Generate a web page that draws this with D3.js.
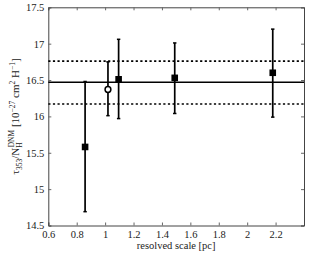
<!DOCTYPE html>
<html><head><meta charset="utf-8">
<script src="https://cdn.jsdelivr.net/npm/d3@7"></script>
<style>body{margin:0;background:#fff}svg{display:block}text{font-family:"Times New Roman","Liberation Serif","DejaVu Serif",serif !important}</style>
</head><body><svg id="c" width="309" height="254"></svg>
<script>
const scales = [0.859, 1.095, 1.49, 2.18];
const values = [15.58, 16.51, 16.53, 16.60];
const errLow = [14.69, 15.97, 16.04, 15.99];
const errHigh = [16.48, 17.06, 17.01, 17.20];
const openScale = [1.02];
const openValue = [16.37];
const openLow = [16.01];
const openHigh = [16.75];
const meanValue = 16.47;
const bandValues = [16.17, 16.76];
const xTicks = [0.6, 0.8, 1, 1.2, 1.4, 1.6, 1.8, 2, 2.2];
const yTicks = [14.5, 15, 15.5, 16, 16.5, 17, 17.5];

const svg = d3.select("#c");
const L = 48.3, R = 304, T = 7.3, B = 225.5;
const x = d3.scaleLinear().domain([0.6, 2.4]).range([L, R]);
const y = d3.scaleLinear().domain([14.5, 17.5]).range([B, T]);

const fmt = d => String(d);
const ax = [
  d3.axisBottom(x).tickValues(xTicks).tickSize(-3).tickPadding(5).tickFormat(fmt),
  d3.axisTop(x).tickValues(xTicks).tickSize(-3).tickFormat(""),
  d3.axisLeft(y).tickValues(yTicks).tickSize(-3).tickPadding(4).tickFormat(fmt),
  d3.axisRight(y).tickValues(yTicks).tickSize(-3).tickFormat("")
];
const pos = [`translate(0,${B})`, `translate(0,${T})`, `translate(${L},0)`, `translate(${R},0)`];
ax.forEach((a, i) => {
  const g = svg.append("g").attr("transform", pos[i]).call(a).attr("font-family", null);
  g.select(".domain").attr("stroke", "#444").attr("stroke-width", 1);
  g.selectAll(".tick line").attr("stroke", "#666");
  g.selectAll("text").attr("font-size", 10.5).attr("fill", "#222");
});

svg.append("line").attr("x1", L).attr("x2", R).attr("y1", y(meanValue)).attr("y2", y(meanValue))
  .attr("stroke", "#000").attr("stroke-width", 1.6);
bandValues.forEach(v => svg.append("line").attr("x1", L).attr("x2", R).attr("y1", y(v)).attr("y2", y(v))
  .attr("stroke", "#000").attr("stroke-width", 1.6).attr("stroke-dasharray", "2.2,2.4"));

function ebar(xs, lo, hi) {
  const g = svg.append("g");
  xs.forEach((xv, i) => {
    g.append("line").attr("x1", x(xv)).attr("x2", x(xv)).attr("y1", y(lo[i])).attr("y2", y(hi[i]))
      .attr("stroke", "#000").attr("stroke-width", 1.7);
    [lo[i], hi[i]].forEach(v => g.append("line").attr("x1", x(xv) - 1.7).attr("x2", x(xv) + 1.7)
      .attr("y1", y(v)).attr("y2", y(v)).attr("stroke", "#000").attr("stroke-width", 1.5));
  });
}
ebar(scales, errLow, errHigh);
ebar(openScale, openLow, openHigh);

svg.selectAll("rect.pt").data(scales).enter().append("rect")
  .attr("x", d => x(d) - 3.3).attr("y", (d, i) => y(values[i]) - 3.3)
  .attr("width", 6.6).attr("height", 6.6).attr("fill", "#000");
svg.selectAll("circle.pt").data(openScale).enter().append("circle")
  .attr("cx", d => x(d)).attr("cy", (d, i) => y(openValue[i])).attr("r", 2.9)
  .attr("fill", "#fff").attr("stroke", "#000").attr("stroke-width", 1.5);

svg.append("text").attr("x", (L + R) / 2).attr("y", 249).attr("text-anchor", "middle")
  .attr("font-size", 10.5).attr("fill", "#222").text("resolved scale [pc]");

const yl = svg.append("text").attr("transform", `translate(19,${(T + B) / 2}) rotate(-90)`)
  .attr("text-anchor", "middle").attr("font-size", 11).attr("fill", "#222");
yl.append("tspan").text("τ");
yl.append("tspan").attr("font-size", 7.5).attr("dy", 3).text("353");
yl.append("tspan").attr("dy", -3).text("/N");
yl.append("tspan").attr("font-size", 7.5).attr("dy", 3).text("H");
yl.append("tspan").attr("font-size", 7.5).attr("dx", -5).attr("dy", -8.5).text("DNM");
yl.append("tspan").attr("dy", 5.5).text(" [10");
yl.append("tspan").attr("font-size", 7.5).attr("dy", -4).text("−27");
yl.append("tspan").attr("dy", 4).text(" cm");
yl.append("tspan").attr("font-size", 7.5).attr("dy", -4).text("2");
yl.append("tspan").attr("dy", 4).text(" H");
yl.append("tspan").attr("font-size", 7.5).attr("dy", -4).text("−1");
yl.append("tspan").attr("dy", 4).text("]");
</script></body></html>
